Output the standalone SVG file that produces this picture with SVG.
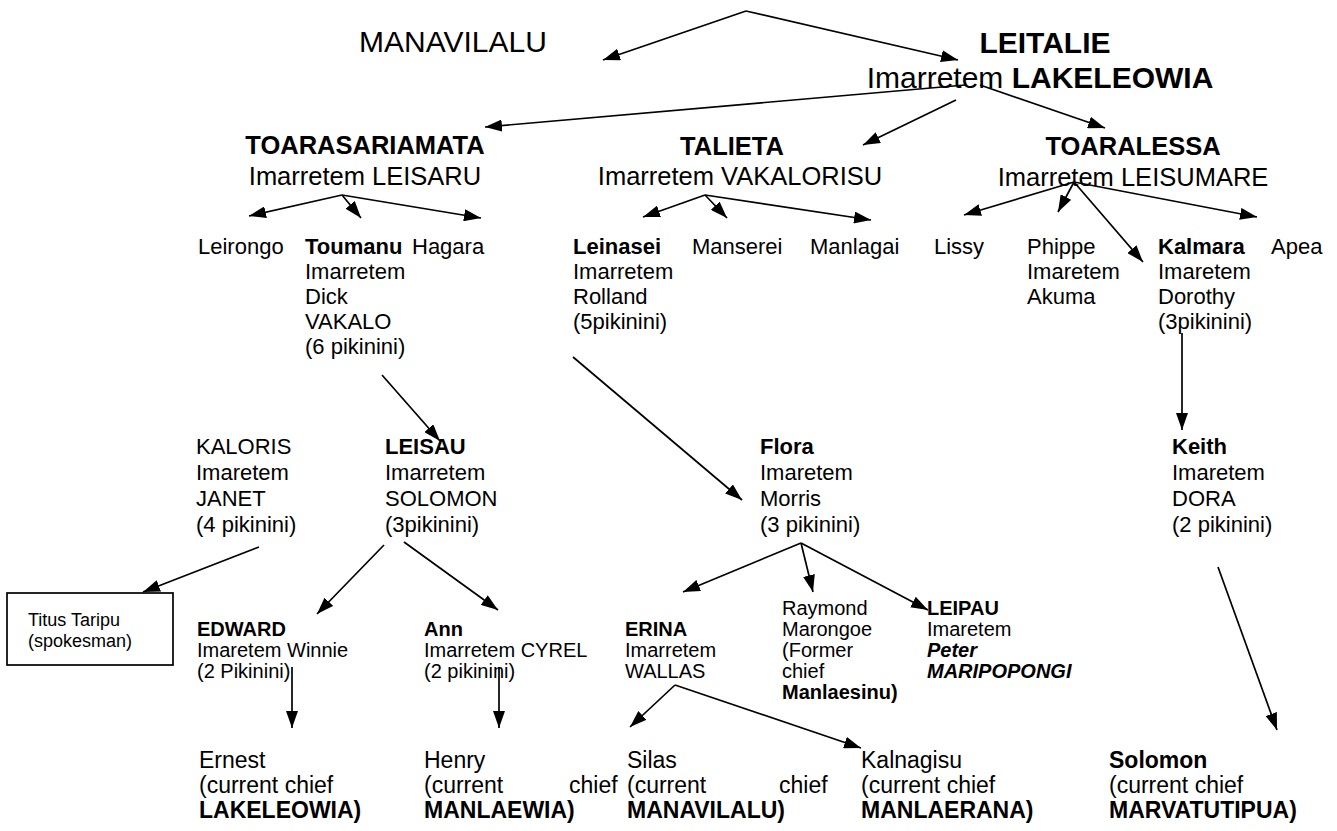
<svg xmlns="http://www.w3.org/2000/svg" width="1337" height="831" viewBox="0 0 1337 831">
<style>
text{font-family:"Liberation Sans",Arial,Helvetica,sans-serif;fill:#000}
.t1{font-size:30px}
.t2{font-size:25.5px}
.t3{font-size:22px}
.t4{font-size:20px}
.t5{font-size:18px}
.t6{font-size:23px}
.b{font-weight:bold}
.bi{font-weight:bold;font-style:italic}
.m{text-anchor:middle}
.c line{stroke:#000;stroke-width:1.7;fill:none;marker-end:url(#ah)}
</style>
<defs>
<marker id="ah" viewBox="0 0 17 12" refX="17" refY="6" markerWidth="17" markerHeight="12" markerUnits="userSpaceOnUse" orient="auto">
<path d="M0,0 L17,6 L0,12 z" style="fill:#000;stroke:none"/>
</marker>
</defs>
<rect width="1337" height="831" fill="#fff"/>

<g id="manavilalu"><text class="t1" x="359" y="52">MANAVILALU</text></g>
<g id="leitalie"><text class="t1 b m" x="1045" y="53">LEITALIE</text>
<text class="t1 m" x="1040" y="88">Imarretem <tspan class="b">LAKELEOWIA</tspan></text></g>

<g id="toarasariamata"><text class="t2 b m" x="365" y="154">TOARASARIAMATA</text><text class="t2 m" x="365" y="185">Imarretem LEISARU</text></g>
<g id="talieta"><text class="t2 b m" x="732" y="155">TALIETA</text><text class="t2 m" x="740" y="185">Imarretem VAKALORISU</text></g>
<g id="toaralessa"><text class="t2 b m" x="1133" y="155">TOARALESSA</text><text class="t2 m" x="1133" y="186">Imarretem LEISUMARE</text></g>

<g id="leirongo"><text class="t3" x="198" y="254">Leirongo</text></g>
<g id="toumanu"><text class="t3" x="305" y="254"><tspan class="b">Toumanu</tspan><tspan x="305" dy="25">Imarretem</tspan><tspan x="305" dy="25">Dick</tspan><tspan x="305" dy="25">VAKALO</tspan><tspan x="305" dy="25">(6 pikinini)</tspan></text></g>
<g id="hagara"><text class="t3" x="412" y="254">Hagara</text></g>
<g id="leinasei"><text class="t3" x="573" y="254"><tspan class="b">Leinasei</tspan><tspan x="573" dy="25">Imarretem</tspan><tspan x="573" dy="25">Rolland</tspan><tspan x="573" dy="25">(5pikinini)</tspan></text></g>
<g id="manserei"><text class="t3" x="692" y="254">Manserei</text></g>
<g id="manlagai"><text class="t3" x="810" y="254">Manlagai</text></g>
<g id="lissy"><text class="t3" x="934" y="254">Lissy</text></g>
<g id="phippe"><text class="t3" x="1027" y="254">Phippe<tspan x="1027" dy="25">Imaretem</tspan><tspan x="1027" dy="25">Akuma</tspan></text></g>
<g id="kalmara"><text class="t3" x="1158" y="254"><tspan class="b">Kalmara</tspan><tspan x="1158" dy="25">Imaretem</tspan><tspan x="1158" dy="25">Dorothy</tspan><tspan x="1158" dy="25">(3pikinini)</tspan></text></g>
<g id="apea"><text class="t3" x="1271" y="254">Apea</text></g>

<g id="kaloris"><text class="t3" x="196" y="454">KALORIS<tspan x="196" dy="26">Imaretem</tspan><tspan x="196" dy="26">JANET</tspan><tspan x="196" dy="26">(4 pikinini)</tspan></text></g>
<g id="leisau"><text class="t3" x="385" y="454"><tspan class="b">LEISAU</tspan><tspan x="385" dy="26">Imarretem</tspan><tspan x="385" dy="26">SOLOMON</tspan><tspan x="385" dy="26">(3pikinini)</tspan></text></g>
<g id="flora"><text class="t3" x="760" y="454"><tspan class="b">Flora</tspan><tspan x="760" dy="26">Imaretem</tspan><tspan x="760" dy="26">Morris</tspan><tspan x="760" dy="26">(3 pikinini)</tspan></text></g>
<g id="keith"><text class="t3" x="1172" y="454"><tspan class="b">Keith</tspan><tspan x="1172" dy="26">Imaretem</tspan><tspan x="1172" dy="26">DORA</tspan><tspan x="1172" dy="26">(2 pikinini)</tspan></text></g>

<g id="titus"><rect x="7" y="593" width="166" height="72" fill="none" stroke="#000" stroke-width="1.7"/><text class="t5" x="28" y="626">Titus Taripu<tspan x="28" dy="21">(spokesman)</tspan></text></g>
<g id="edward"><text class="t4" x="197" y="636"><tspan class="b">EDWARD</tspan><tspan x="197" dy="21">Imaretem Winnie</tspan><tspan x="197" dy="21">(2 Pikinini)</tspan></text></g>
<g id="ann"><text class="t4" x="424" y="636"><tspan class="b">Ann</tspan><tspan x="424" dy="21">Imarretem CYREL</tspan><tspan x="424" dy="21">(2 pikinini)</tspan></text></g>
<g id="erina"><text class="t4" x="625" y="636"><tspan class="b">ERINA</tspan><tspan x="625" dy="21">Imarretem</tspan><tspan x="625" dy="21">WALLAS</tspan></text></g>
<g id="raymond"><text class="t4" x="782" y="615">Raymond<tspan x="782" dy="21">Marongoe</tspan><tspan x="782" dy="21">(Former</tspan><tspan x="782" dy="21">chief</tspan><tspan x="782" dy="21" class="b">Manlaesinu)</tspan></text></g>
<g id="leipau"><text class="t4" x="927" y="615"><tspan class="b">LEIPAU</tspan><tspan x="927" dy="21">Imaretem</tspan><tspan x="927" dy="21" class="bi">Peter</tspan><tspan x="927" dy="21" class="bi">MARIPOPONGI</tspan></text></g>

<g id="ernest"><text class="t6" x="199" y="768">Ernest<tspan x="199" dy="25">(current chief</tspan><tspan x="199" dy="25" class="b">LAKELEOWIA)</tspan></text></g>
<g id="henry"><text class="t6" x="424" y="768">Henry<tspan x="424" dy="25">(current</tspan><tspan x="569">chief</tspan><tspan x="424" dy="25" class="b">MANLAEWIA)</tspan></text></g>
<g id="silas"><text class="t6" x="627" y="768">Silas<tspan x="627" dy="25">(current</tspan><tspan x="779">chief</tspan><tspan x="627" dy="25" class="b">MANAVILALU)</tspan></text></g>
<g id="kalnagisu"><text class="t6" x="861" y="768">Kalnagisu<tspan x="861" dy="25">(current chief</tspan><tspan x="861" dy="25" class="b">MANLAERANA)</tspan></text></g>
<g id="solomon"><text class="t6" x="1109" y="768"><tspan class="b">Solomon</tspan><tspan x="1109" dy="25">(current chief</tspan><tspan x="1109" dy="25" class="b">MARVATUTIPUA)</tspan></text></g>

<g id="connectors" class="c">
<line x1="746" y1="11" x2="603" y2="60"/>
<line x1="746" y1="11" x2="958" y2="60"/>
<line x1="965" y1="85" x2="485" y2="127"/>
<line x1="956" y1="100" x2="863" y2="145"/>
<line x1="980" y1="85" x2="1105" y2="128"/>
<line x1="342" y1="195" x2="249" y2="216"/>
<line x1="342" y1="195" x2="361" y2="218"/>
<line x1="342" y1="195" x2="481" y2="218"/>
<line x1="705" y1="195" x2="643" y2="217"/>
<line x1="705" y1="195" x2="727" y2="218"/>
<line x1="705" y1="195" x2="871" y2="220"/>
<line x1="1074" y1="182" x2="964" y2="215"/>
<line x1="1074" y1="182" x2="1058" y2="212"/>
<line x1="1074" y1="182" x2="1143" y2="262"/>
<line x1="1074" y1="182" x2="1257" y2="217"/>
<line x1="382" y1="375" x2="440" y2="441"/>
<line x1="573" y1="357" x2="742" y2="500"/>
<line x1="1182" y1="333" x2="1182" y2="430"/>
<line x1="259" y1="547" x2="143" y2="592"/>
<line x1="384" y1="545" x2="317" y2="614"/>
<line x1="404" y1="542" x2="498" y2="610"/>
<line x1="801" y1="543" x2="683" y2="592"/>
<line x1="801" y1="543" x2="813" y2="592"/>
<line x1="801" y1="543" x2="928" y2="610"/>
<line x1="675" y1="685" x2="630" y2="727"/>
<line x1="675" y1="685" x2="861" y2="748"/>
<line x1="292" y1="667" x2="292" y2="728"/>
<line x1="499" y1="667" x2="499" y2="728"/>
<line x1="1218" y1="567" x2="1277" y2="730"/>
</g>
</svg>
